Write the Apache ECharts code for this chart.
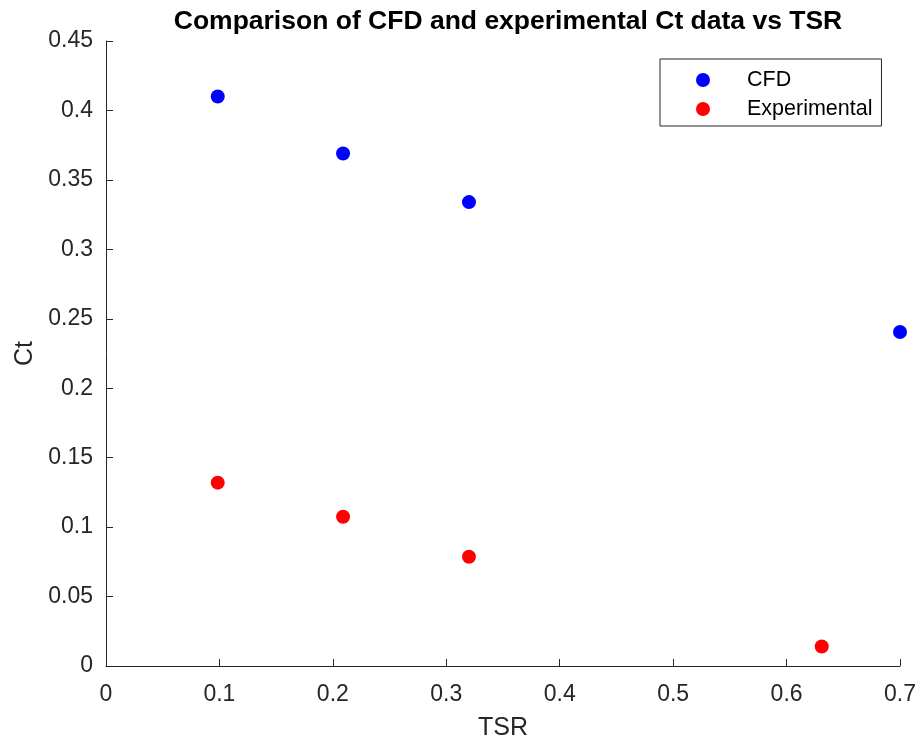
<!DOCTYPE html>
<html>
<head>
<meta charset="utf-8">
<script src="https://cdn.jsdelivr.net/npm/echarts@6/dist/echarts.min.js"></script>
<style>
  html, body { margin: 0; padding: 0; background: #fff; }
  #chart { width: 919px; height: 742px; }
</style>
</head>
<body>
<div id="chart"></div>
<script>
// Tip speed ratio (TSR) and thrust coefficient (Ct) values
const cfdTSR = [0.0985, 0.209, 0.32, 0.7];
const cfdCt = [0.41, 0.369, 0.334, 0.2405];
const expTSR = [0.0985, 0.209, 0.32, 0.631];
const expCt = [0.132, 0.1075, 0.0787, 0.014];

const seriesNames = ['CFD', 'Experimental'];
const titleText = 'Comparison of CFD and experimental Ct data vs TSR';

const axisColor = '#262626';
const font = 'Liberation Sans, Arial, Helvetica, sans-serif';

const pairs = (xs, ys) => xs.map((x, i) => [x, ys[i]]);

const chart = echarts.init(document.getElementById('chart'), null, { renderer: 'canvas' });

chart.setOption({
  backgroundColor: '#ffffff',
  animation: false,
  title: {
    text: titleText,
    left: 503,
    textAlign: 'center',
    top: 3,
    textStyle: { fontFamily: font, fontWeight: 'bold', fontSize: 26.5, color: '#000' }
  },
  legend: {
    data: seriesNames,
    orient: 'vertical',
    left: 660,
    top: 59,
    padding: [10, 9, 6, 36],
    itemWidth: 14,
    itemHeight: 14,
    itemGap: 7,
    icon: 'circle',
    borderColor: '#262626',
    borderWidth: 1,
    backgroundColor: '#fff',
    textStyle: { fontFamily: font, fontSize: 21.5, lineHeight: 22, color: '#000', padding: [0, 0, 0, 32] }
  },
  grid: { left: 106, right: 19, top: 41, bottom: 76, containLabel: false, outerBoundsMode: 'none' },
  xAxis: {
    type: 'value',
    min: 0, max: 0.7, interval: 0.1,
    name: 'TSR',
    nameLocation: 'middle',
    nameGap: 50,
    nameTextStyle: { fontFamily: font, fontSize: 25, color: axisColor },
    axisLine: { show: true, onZero: false, lineStyle: { color: axisColor, width: 1 } },
    axisTick: { show: true, inside: true, length: 7, lineStyle: { color: axisColor } },
    axisLabel: { fontFamily: font, fontSize: 23, color: axisColor, margin: 17,
      formatter: v => String(Math.round(v * 10) / 10) },
    splitLine: { show: false }
  },
  yAxis: {
    type: 'value',
    min: 0, max: 0.45, interval: 0.05,
    name: 'Ct',
    nameLocation: 'middle',
    nameGap: 66,
    nameRotate: 90,
    nameTextStyle: { fontFamily: font, fontSize: 25, color: axisColor },
    axisLine: { show: true, lineStyle: { color: axisColor, width: 1 } },
    axisTick: { show: true, inside: true, length: 7, lineStyle: { color: axisColor } },
    axisLabel: { fontFamily: font, fontSize: 23, color: axisColor, margin: 13,
      padding: [4, 0, 0, 0],
      formatter: v => String(Math.round(v * 100) / 100) },
    splitLine: { show: false }
  },
  series: [
    {
      name: seriesNames[0],
      type: 'scatter',
      symbol: 'circle',
      symbolSize: 14,
      itemStyle: { color: '#0000ff', opacity: 1 },
      data: pairs(cfdTSR, cfdCt),
      clip: false
    },
    {
      name: seriesNames[1],
      type: 'scatter',
      symbol: 'circle',
      symbolSize: 14,
      itemStyle: { color: '#ff0000', opacity: 1 },
      data: pairs(expTSR, expCt),
      clip: false
    }
  ]
});
</script>
</body>
</html>
